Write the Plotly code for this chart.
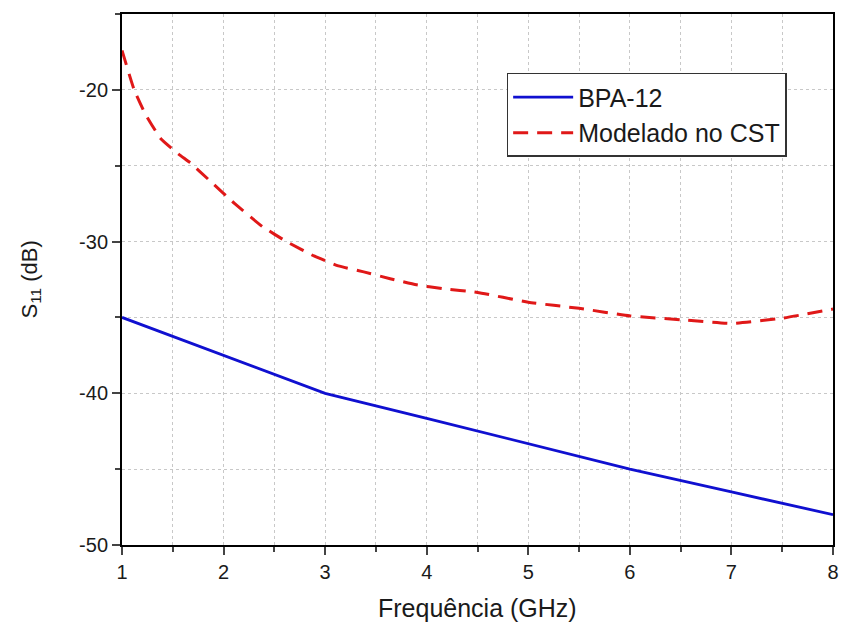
import plotly.graph_objects as go

freq_bpa = [1, 2, 3, 4, 5, 6, 7, 8]
s11_bpa = [-35.0, -37.5, -40.0, -41.65, -43.35, -45.0, -46.5, -48.0]

freq_cst = [1, 1.12, 1.23, 1.38, 1.56, 1.67, 1.85, 2.11, 2.38, 2.62, 2.89, 3.13, 3.38, 3.64,
            3.9, 4.15, 4.5, 5.0, 5.5, 6.0, 6.5, 7.0, 7.5, 8.0]
s11_cst = [-17.4, -20.0, -21.6, -23.2, -24.25, -24.8, -25.9, -27.5, -29.0, -30.0, -30.95, -31.6,
           -32.0, -32.45, -32.85, -33.1, -33.35, -34.0, -34.4, -34.9, -35.15, -35.4, -35.05, -34.45]

x_ticks = [1, 2, 3, 4, 5, 6, 7, 8]
x_labels = ["1", "2", "3", "4", "5", "6", "7", "8"]
y_ticks = [-50, -40, -30, -20]
y_labels = ["-50", "-40", "-30", "-20"]

font_family = "Liberation Sans, Arial, sans-serif"
text_color = "#1a1a1a"

fig = go.Figure()
fig.add_trace(go.Scatter(x=freq_bpa, y=s11_bpa, mode="lines", name="BPA-12",
                         line=dict(color="#1010d0", width=2.8)))
fig.add_trace(go.Scatter(x=freq_cst, y=s11_cst, mode="lines", name="Modelado no CST",
                         line=dict(color="#e01818", width=3, dash="15px,9px",
                                   shape="spline", smoothing=0.4)))

grid_style = dict(showgrid=True, gridcolor="#c8c8c8", griddash="dot", gridwidth=1)

fig.update_xaxes(range=[1, 8], tickvals=x_ticks, ticktext=x_labels, ticks="outside",
                 ticklen=8, tickwidth=1.5, automargin=False,
                 showline=True, linecolor="black", linewidth=2, mirror=True,
                 tickfont=dict(size=20, color=text_color), zeroline=False,
                 minor=dict(dtick=0.5, tick0=1, ticks="outside", ticklen=5, tickwidth=1.5,
                            showgrid=True, gridcolor="#c8c8c8", griddash="dot"),
                 **grid_style)
fig.update_yaxes(range=[-50, -15], tickvals=y_ticks, ticktext=y_labels, ticks="outside",
                 ticklen=8, tickwidth=1.5, automargin=False,
                 showline=True, linecolor="black", linewidth=2, mirror=True,
                 tickfont=dict(size=20, color=text_color), zeroline=False,
                 minor=dict(dtick=5, tick0=-50, ticks="outside", ticklen=5, tickwidth=1.5,
                            showgrid=True, gridcolor="#c8c8c8", griddash="dot"),
                 **grid_style)

fig.add_annotation(text="Frequência (GHz)", xref="paper", yref="paper", x=0.5, y=0,
                   xanchor="center", yanchor="middle", yshift=-63, showarrow=False,
                   font=dict(size=25, color=text_color, family=font_family))
fig.add_annotation(text="S<sub>11</sub> (dB)", xref="paper", yref="paper", x=0, y=0.5,
                   xanchor="center", yanchor="middle", xshift=-92, textangle=-90,
                   showarrow=False, font=dict(size=22, color=text_color, family=font_family))

fig.update_layout(
    width=841, height=633,
    margin=dict(l=122, r=8, t=14, b=88),
    paper_bgcolor="white", plot_bgcolor="white",
    font=dict(family=font_family, color=text_color),
    legend=dict(x=0.541, y=0.889, xanchor="left", yanchor="top",
                bgcolor="white", bordercolor="#333", borderwidth=1.5,
                font=dict(size=25, color=text_color), itemwidth=60,
                tracegroupgap=0),
)

fig.write_html("out.html", config={"displayModeBar": False},
               post_script="document.body.style.margin='0';")
